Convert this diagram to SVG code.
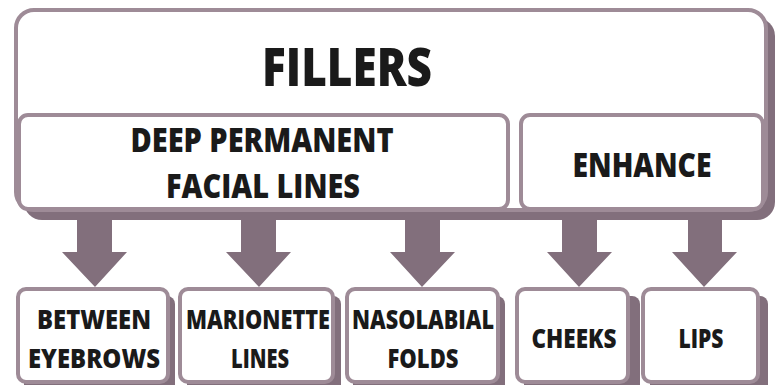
<svg xmlns="http://www.w3.org/2000/svg" width="779" height="385" viewBox="0 0 779 385">
<defs>
<style>
.box{fill:#ffffff;stroke:#9e8b97;stroke-width:4}
.sh{fill:#826f7c}
.arr{fill:#826f7c}
text{font-family:"Open Sans","Liberation Sans",sans-serif;font-weight:800;fill:#1a1a1a;text-anchor:middle}
.t1{font-size:53px}
.t2{font-size:33px}
.t3{font-size:26px}
</style>
</defs>
<rect width="779" height="385" fill="#ffffff"/>
<g id="fillers">
<rect class="sh" x="24" y="18" width="751" height="202" rx="18"/>
<rect class="box" x="16" y="10" width="750" height="200" rx="18"/>
<text class="t1" x="347" y="86" textLength="170" lengthAdjust="spacingAndGlyphs">FILLERS</text>
</g>
<g id="deep">
<rect class="box" x="19" y="115" width="489" height="94" rx="9"/>
<text class="t2" x="262" y="152" textLength="263" lengthAdjust="spacingAndGlyphs">DEEP PERMANENT</text>
<text class="t2" x="263" y="198" textLength="194" lengthAdjust="spacingAndGlyphs">FACIAL LINES</text>
</g>
<g id="enhance">
<rect class="box" x="521" y="115" width="242" height="94" rx="9"/>
<text class="t2" x="642" y="177" textLength="139" lengthAdjust="spacingAndGlyphs">ENHANCE</text>
</g>
<g id="connectors">
<polygon class="arr" points="77,212 112,212 112,252 127,252 95,287 62,252 77,252"/>
<polygon class="arr" points="241,212 276,212 276,252 291,252 259,287 226,252 241,252"/>
<polygon class="arr" points="405,212 440,212 440,252 455,252 422,287 390,252 405,252"/>
<polygon class="arr" points="562,212 597,212 597,252 612,252 579,287 547,252 562,252"/>
<polygon class="arr" points="688,212 722,212 722,252 737,252 704,287 672,252 688,252"/>
</g>
<g id="between">
<rect class="sh" x="24" y="296" width="151" height="100" rx="8"/>
<rect class="box" x="18" y="289" width="150" height="93" rx="8"/>
<text class="t3" x="94" y="329" textLength="114" lengthAdjust="spacingAndGlyphs">BETWEEN</text>
<text class="t3" x="94" y="368" textLength="132" lengthAdjust="spacingAndGlyphs">EYEBROWS</text>
</g>
<g id="marionette">
<rect class="sh" x="187" y="296" width="154" height="100" rx="8"/>
<rect class="box" x="180" y="289" width="153" height="93" rx="8"/>
<text class="t3" x="258" y="329" textLength="144" lengthAdjust="spacingAndGlyphs">MARIONETTE</text>
<text class="t3" x="260" y="368" textLength="58" lengthAdjust="spacingAndGlyphs">LINES</text>
</g>
<g id="nasolabial">
<rect class="sh" x="353" y="296" width="152" height="100" rx="8"/>
<rect class="box" x="347" y="289" width="151" height="93" rx="8"/>
<text class="t3" x="423" y="329" textLength="142" lengthAdjust="spacingAndGlyphs">NASOLABIAL</text>
<text class="t3" x="423" y="368" textLength="71" lengthAdjust="spacingAndGlyphs">FOLDS</text>
</g>
<g id="cheeks">
<rect class="sh" x="524" y="296" width="116" height="100" rx="8"/>
<rect class="box" x="517" y="289" width="111" height="93" rx="8"/>
<text class="t3" x="574" y="348" textLength="85" lengthAdjust="spacingAndGlyphs">CHEEKS</text>
</g>
<g id="lips">
<rect class="sh" x="650" y="296" width="118" height="100" rx="8"/>
<rect class="box" x="643" y="289" width="115" height="93" rx="8"/>
<text class="t3" x="701" y="348" textLength="45" lengthAdjust="spacingAndGlyphs">LIPS</text>
</g>
</svg>
